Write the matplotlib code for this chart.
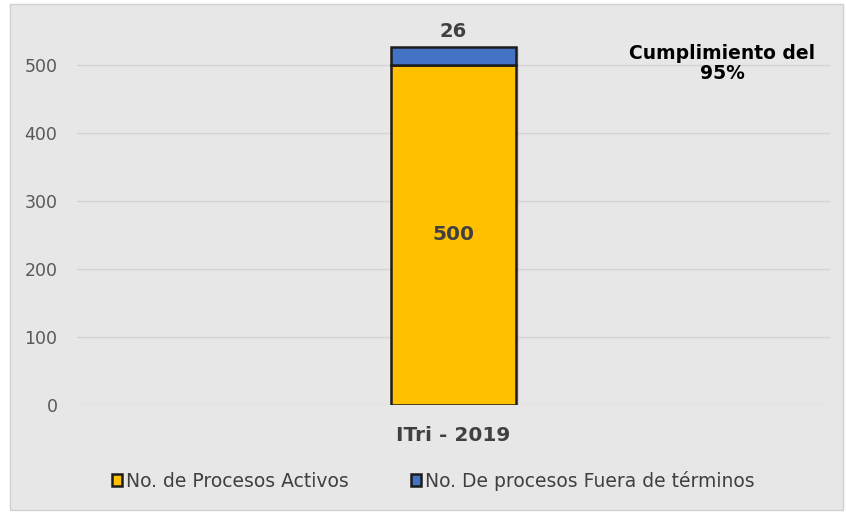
import matplotlib.pyplot as plt
from matplotlib.patches import Rectangle

plt.rcParams['font.family'] = ['DejaVu Sans']

categories = ['ITri - 2019']
activos = [500]
fuera = [26]
series_names = ['No. de Procesos Activos', 'No. De procesos Fuera de términos']
nota = 'Cumplimiento del\n95%'

bg = '#e7e7e7'
fig = plt.figure(figsize=(8.46, 5.12), dpi=100, facecolor='white')
fig.patches.append(Rectangle((10 / 846, 2 / 512), 833 / 846, 506 / 512,
                             transform=fig.transFigure, facecolor=bg,
                             edgecolor='#d0d0d0', linewidth=1, zorder=-5))
ax = fig.add_axes([0.091, 0.209, 0.890, 0.731])
ax.set_facecolor('none')

x = range(len(categories))
b1 = ax.bar(x, activos, width=0.166, color='#FFC000', edgecolor='#1c1c1c',
            linewidth=1.8, label=series_names[0], zorder=3)
b2 = ax.bar(x, fuera, bottom=activos, width=0.166, color='#4472C4',
            edgecolor='#1c1c1c', linewidth=1.8, label=series_names[1], zorder=3)

# sombra leve a la derecha de la barra
for r in list(b1) + list(b2):
    ax.add_patch(Rectangle((r.get_x() + 0.004, r.get_y()), r.get_width(), r.get_height(),
                           facecolor='#000000', alpha=0.08, edgecolor='none', zorder=2))

ax.bar_label(b1, label_type='center', fontsize=14.5, fontweight='bold', color='#404040')
ax.bar_label(b2, labels=[str(v) for v in fuera], padding=4, fontsize=14,
             fontweight='bold', color='#404040')

ax.set_xlim(-0.5, 0.5)
ax.set_ylim(0, 550)
ax.set_yticks(range(0, 501, 100))
ax.yaxis.grid(True, color='#d4d4d4', linewidth=1)
ax.set_axisbelow(True)
for s in ax.spines.values():
    s.set_visible(False)
ax.tick_params(axis='y', length=0, labelsize=12.5, labelcolor='#595959', pad=14)
ax.tick_params(axis='x', length=0, pad=15)
ax.set_xticks(list(x))
ax.set_xticklabels(categories, fontsize=14.5, fontweight='bold', color='#404040')

ax.text(0.857, 0.965, nota, transform=ax.transAxes, ha='center', va='top',
        fontsize=13.5, fontweight='bold', color='black', linespacing=1.05)

fig.legend(loc='center', bbox_to_anchor=(0.512, 0.061), ncol=2, frameon=False,
           fontsize=13.5, labelcolor='#404040', handlelength=0.55, handleheight=0.6,
           handletextpad=0.2, columnspacing=3.3)

fig.savefig('out.png', dpi=100, facecolor='white')
